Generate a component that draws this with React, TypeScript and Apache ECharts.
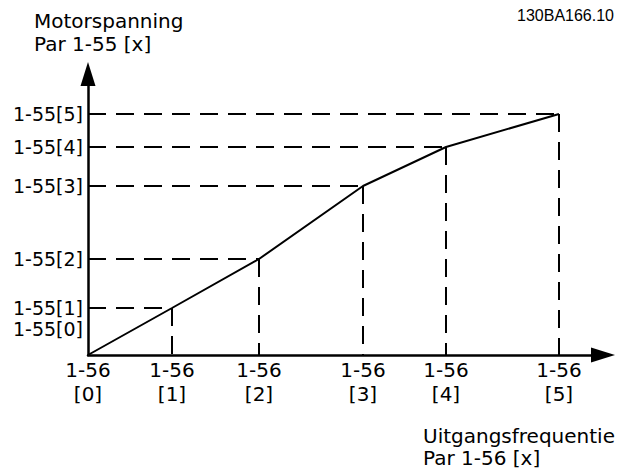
import React, { useEffect, useRef } from "react";
import * as echarts from "echarts";

// Schematic values (offsets from origin)
const xPositions = [0, 84, 171, 275, 358, 471];
const yValues = [0, 47, 96, 169, 208, 241];
const xTickLabels = ["1-56\n[0]", "1-56\n[1]", "1-56\n[2]", "1-56\n[3]", "1-56\n[4]", "1-56\n[5]"];
const yLabelPositions = [26, 47, 96, 169, 208, 241];
const yTickLabels = ["1-55[0]", "1-55[1]", "1-55[2]", "1-55[3]", "1-55[4]", "1-55[5]"];
const xMax = 515;
const yMax = 281;

const FONT = "DejaVu Sans";
const FS = 20;

export default function App() {
  const ref = useRef<HTMLDivElement>(null);
  useEffect(() => {
    if (!ref.current) return;
    const chart = echarts.init(ref.current, null, { renderer: "svg" });
    const points = xPositions.map((x, i) => [x, yValues[i]]);
    const dashed: any[] = [];
    for (let i = 1; i < points.length; i++) {
      const [x, y] = points[i];
      dashed.push([{ coord: [0, y] }, { coord: [x, y] }]);
      dashed.push([{ coord: [x, y] }, { coord: [x, 0] }]);
    }
    const textStyle = (text: string, x: number, y: number, extra: any = {}) => ({
      type: "text",
      x,
      y,
      silent: true,
      style: {
        text,
        fill: "#000",
        fontSize: FS,
        fontFamily: FONT,
        textVerticalAlign: "middle",
        ...extra,
      },
    });
    // label [0] sits on a second, line-less axis so it is not hidden by the [1] label
    const yAxisFor = (idxs: number[], showLine: boolean) => ({
      type: "value",
      min: 0,
      max: yMax,
      position: "left",
      axisLine: {
        show: showLine,
        symbol: ["none", "triangle"],
        symbolSize: [15, 24],
        lineStyle: { color: "#000", width: 2.5 },
      },
      axisTick: { show: false },
      splitLine: { show: false },
      axisLabel: {
        customValues: idxs.map((i) => yLabelPositions[i]),
        hideOverlap: false,
        formatter: (v: number) => {
          const i = yLabelPositions.indexOf(v);
          return i >= 0 ? yTickLabels[i] : "";
        },
        fontSize: 19,
        lineHeight: 16,
        fontFamily: FONT,
        color: "#000",
        margin: 5,
      },
    });
    chart.setOption({
      animation: false,
      grid: { left: 88, top: 74, right: 15, bottom: 117, containLabel: false },
      xAxis: {
        type: "value",
        min: 0,
        max: xMax,
        axisLine: {
          show: true,
          symbol: ["none", "triangle"],
          symbolSize: [15, 24],
          lineStyle: { color: "#000", width: 2.5 },
        },
        axisTick: { show: false },
        splitLine: { show: false },
        axisLabel: {
          customValues: xPositions,
          hideOverlap: false,
          formatter: (v: number) => {
            const i = xPositions.indexOf(v);
            return i >= 0 ? xTickLabels[i] : "";
          },
          fontSize: FS,
          fontFamily: FONT,
          color: "#000",
          lineHeight: 24,
          margin: 3,
        },
      },
      yAxis: [yAxisFor([1, 2, 3, 4, 5], true), yAxisFor([0], false)],
      series: [
        {
          type: "line",
          data: points,
          symbol: "none",
          lineStyle: { color: "#000", width: 2 },
          silent: true,
          z: 3,
          markLine: {
            symbol: ["none", "none"],
            silent: true,
            label: { show: false },
            lineStyle: { color: "#000", width: 2, type: [18, 10] },
            emphasis: { disabled: true },
            data: dashed,
          },
        },
      ],
      graphic: [
        textStyle("Motorspanning", 34, 21),
        textStyle("Par 1-55 [x]", 34, 44),
        textStyle("130BA166.10", 614, 15, {
          fontFamily: "Liberation Sans",
          fontSize: 16,
          textAlign: "right",
        }),
        textStyle("Uitgangsfrequentie", 423, 436),
        textStyle("Par 1-56 [x]", 423, 458),
      ],
    });
    return () => chart.dispose();
  }, []);
  return (
    <div
      ref={ref}
      style={{ position: "fixed", left: 0, top: 0, width: 618, height: 472, background: "#fff" }}
    />
  );
}
